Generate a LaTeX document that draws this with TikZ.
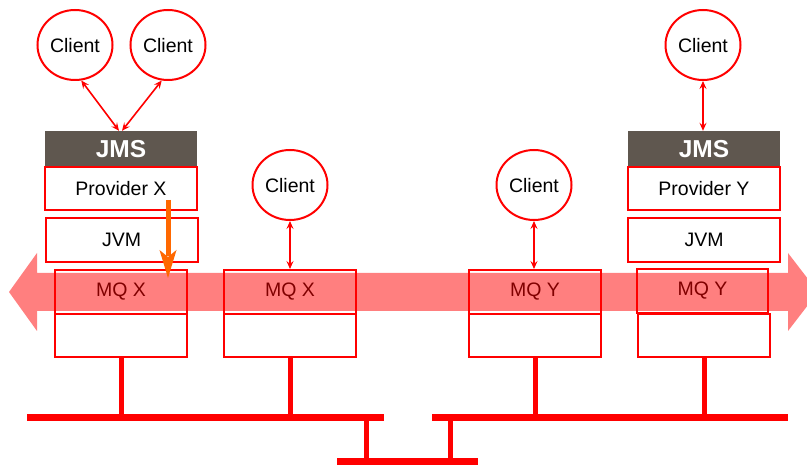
\documentclass[tikz,border=0pt]{standalone}
\usepackage{fontspec}
\setmainfont{Liberation Sans}
\usetikzlibrary{arrows.meta,shapes.geometric}
\definecolor{jmsgray}{RGB}{95,87,79}
\definecolor{flowor}{RGB}{255,104,0}
\tikzset{
  txt/.style={font=\fontsize{19.5}{22}\selectfont},
  client/.style={ellipse,draw=red,line width=2pt,fill=white,minimum width=75pt,minimum height=70pt,inner sep=0pt,txt,text depth=0pt},
  header/.style={rectangle,fill=jmsgray,text=white,minimum width=152pt,minimum height=36pt,inner sep=0pt,font=\fontsize{24.5}{26}\selectfont\bfseries},
  layer/.style={rectangle,draw=red,line width=2pt,fill=white,minimum width=#1,inner sep=0pt,txt},
  layer/.default=152pt,
  link/.style={red,line width=1.6pt,{Stealth[length=8pt,width=7pt,inset=3pt]}-{Stealth[length=8pt,width=7pt,inset=3pt]}},
  stem/.style={red,line width=5pt},
  bus/.style={red,line width=7pt},
  band/.style={fill=red,fill opacity=0.5},
  pushshaft/.style={flowor,line width=5pt},
  pushhead/.style={fill=flowor}
}
\begin{document}
\begin{tikzpicture}[x=1pt,y=-1pt]
\useasboundingbox (0,0) rectangle (807,465);
\clip (0,0) rectangle (807,465);

% clients
\node[client] (c1) at (75,45) {Client};
\node[client] (c2) at (168,45) {Client};
\node[client] (c3) at (703,45) {Client};
\node[client] (c4) at (290,185) {Client};
\node[client] (c5) at (534,185) {Client};

% provider X stack
\node[header] (jmsL) at (121,149) {JMS};
\node[layer,minimum height=43pt] (provL) at (121,188.5) {Provider X};
\node[layer,minimum height=44pt] (jvmL) at (121.5,240) {JVM};

% provider Y stack
\node[header] (jmsR) at (704,149) {JMS};
\node[layer,minimum height=43pt] (provR) at (704,188.5) {Provider Y};
\node[layer,minimum height=44pt] (jvmR) at (704,240) {JVM};

% message queue managers
\node[layer=132pt,minimum height=44pt] (qa) at (121,292) {MQ X};
\node[layer=132pt,minimum height=43pt] (qa2) at (121,335.5) {};
\node[layer=132pt,minimum height=44pt] (qb) at (290,292) {MQ X};
\node[layer=132pt,minimum height=43pt] (qb2) at (290,335.5) {};
\node[layer=132pt,minimum height=44pt] (qc) at (535,292) {MQ Y};
\node[layer=132pt,minimum height=43pt] (qc2) at (535,335.5) {};
\node[layer=132pt,minimum height=43pt] (qd2) at (704,335.5) {};
\node[layer=131pt,minimum height=44pt] (qd) at (702.5,291) {MQ Y};

% client links
\draw[link] (c1.-80) -- ([xshift=-2pt]jmsL.north);
\draw[link] (c2.-100) -- ([xshift=1pt]jmsL.north);
\draw[link] (c3.south) -- (c3.south |- jmsR.north);
\draw[link] (c4.south) -- (qb.north);
\draw[link] (c5.south) -- (c5.south |- qc.north);

% network
\coordinate (busLa) at (27,418);
\coordinate (busLb) at (384,418);
\coordinate (busRa) at (432,418);
\coordinate (busRb) at (788,418);
\coordinate (baseA) at (337,461);
\coordinate (baseB) at (478,461);
\draw[stem] (qa2.south) -- (qa2.south |- busLa);
\draw[stem] (qb2.south) -- (qb2.south |- busLa);
\draw[stem] (qc2.south) -- (qc2.south |- busRa);
\draw[stem] (qd2.south) -- (qd2.south |- busRa);
\draw[stem] (366,418) -- (366,461);
\draw[stem] (450,418) -- (450,461);
\draw[bus] (busLa) -- (busLb);
\draw[bus] (busRa) -- (busRb);
\draw[bus] (baseA) -- (baseB);

% message flow band
\path[band] (9,292) -- (37,253) -- (37,273) -- (788,273) -- (788,253)
  -- (818,292) -- (788,331) -- (788,311) -- (37,311) -- (37,331) -- cycle;

% provider X pushes to its queue manager
\coordinate (pushA) at (168,200);
\coordinate (pushB) at (168,278);
\draw[pushshaft] (pushA) -- ([yshift=22pt]pushB);
\fill[pushhead] (pushB) -- ++(-8.5,-28) -- ++(8.5,7) -- ++(8.5,-7) -- cycle;
\end{tikzpicture}
\end{document}
